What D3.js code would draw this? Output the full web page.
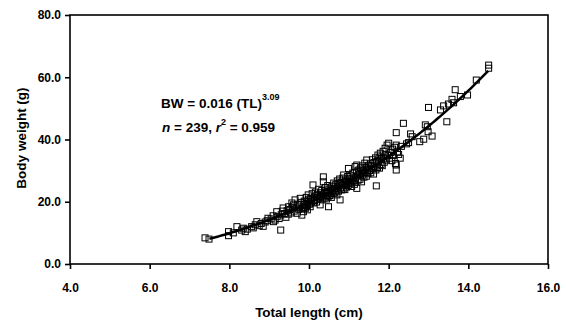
<!DOCTYPE html>
<html>
<head>
<meta charset="utf-8">
<script src="https://cdn.jsdelivr.net/npm/d3@7"></script>
<style>
  body { margin: 0; background: #fff; }
  text { font-family: Arial, "Liberation Sans", sans-serif; font-weight: bold; fill: #000; }
</style>
</head>
<body>
<div id="chart"></div>
<script>
// tick labels
const xTicks = [4, 6, 8, 10, 12, 14, 16];
const yTicks = [0, 20, 40, 60, 80];

// fitted length-weight relation, BW = a * TL^b
const fitA = 0.016;
const fitB = 3.09;
const fitRange = [7.5, 14.5];

// [total length (cm), body weight (g)]
const smallFish = [
  [7.39, 8.4], [7.49, 8.0], [7.98, 10.4], [7.98, 9.1],
  [8.19, 12.0], [8.31, 10.9], [8.40, 10.4], [8.10, 10.0], [8.35, 11.5], [8.45, 11.2],
  [8.56, 12.0], [8.60, 11.6], [8.69, 13.6], [8.65, 12.6], [8.75, 12.3], [8.80, 13.0],
  [8.97, 14.7], [8.90, 13.5], [8.85, 12.1], [8.95, 13.9],
  [9.11, 13.6], [9.15, 14.1], [9.19, 16.8], [9.29, 10.9], [9.35, 18.0], [9.49, 18.4],
  [9.05, 14.5], [9.20, 15.2], [9.25, 14.6], [9.30, 15.8], [9.38, 16.2], [9.42, 15.0],
  [9.45, 17.1], [9.10, 15.5], [9.33, 17.0], [9.48, 16.0]
];

const midFish = [
  [9.52, 17.5], [9.55, 16.4], [9.58, 18.2], [9.61, 19.0], [9.63, 17.0], [9.65, 20.6],
  [9.68, 18.0], [9.70, 16.3], [9.72, 19.2], [9.74, 17.6], [9.76, 18.6], [9.78, 21.1],
  [9.80, 19.8], [9.82, 15.7], [9.84, 18.0], [9.86, 16.8], [9.88, 20.2], [9.90, 19.1],
  [9.91, 17.9], [9.93, 21.4], [9.94, 18.7], [9.95, 20.0], [9.96, 17.4], [9.97, 19.5],
  [9.98, 22.2], [9.99, 20.8], [9.57, 19.6], [9.88, 18.2],
  [10.01, 19.2], [10.03, 18.4], [10.04, 21.0], [10.06, 20.0], [10.08, 22.6], [10.10, 25.4],
  [10.11, 19.6], [10.13, 21.5], [10.14, 20.4], [10.16, 23.1], [10.18, 21.9], [10.19, 19.9],
  [10.21, 22.4], [10.22, 20.8], [10.24, 24.0], [10.26, 21.3], [10.28, 19.0], [10.29, 22.9],
  [10.30, 21.7], [10.32, 23.6], [10.33, 20.6], [10.35, 22.1], [10.36, 28.0], [10.36, 26.4],
  [10.38, 21.2], [10.40, 23.0], [10.41, 24.6], [10.42, 22.5], [10.44, 20.9], [10.45, 23.8],
  [10.46, 22.0], [10.47, 25.2], [10.48, 21.6], [10.49, 18.4], [10.50, 23.4],
  [10.52, 22.0], [10.53, 24.4], [10.55, 23.1], [10.56, 21.4], [10.58, 25.0], [10.59, 23.7],
  [10.61, 22.6], [10.62, 26.0], [10.64, 24.2], [10.65, 22.9], [10.67, 25.5], [10.68, 23.5],
  [10.70, 22.2], [10.71, 26.7], [10.72, 24.8], [10.74, 23.4], [10.75, 25.9], [10.77, 27.3],
  [10.78, 20.6], [10.79, 24.5], [10.80, 26.2], [10.82, 23.8], [10.83, 25.3], [10.85, 27.6],
  [10.86, 24.1], [10.87, 28.6], [10.88, 26.0], [10.90, 23.9], [10.91, 25.6], [10.92, 27.0],
  [10.94, 24.7], [10.95, 26.5], [10.97, 28.1], [10.98, 25.2], [10.99, 30.7]
];

const bigFish = [
  [11.01, 25.8], [11.02, 27.4], [11.04, 26.1], [11.05, 28.5], [11.07, 24.9], [11.08, 27.0],
  [11.10, 29.2], [11.11, 26.6], [11.13, 28.0], [11.14, 25.6], [11.16, 31.3], [11.17, 27.7],
  [11.19, 29.6], [11.20, 31.8], [11.20, 24.3], [11.22, 28.3], [11.23, 26.9], [11.25, 30.2],
  [11.26, 28.8], [11.28, 27.2], [11.29, 30.9], [11.31, 29.1], [11.32, 26.4], [11.34, 31.5],
  [11.35, 28.6], [11.37, 30.0], [11.38, 27.9], [11.40, 32.4], [11.41, 29.4], [11.43, 31.0],
  [11.44, 28.2], [11.45, 33.4], [11.47, 30.5], [11.48, 29.0], [11.50, 31.7],
  [11.52, 30.0], [11.54, 32.2], [11.55, 29.3], [11.57, 31.2], [11.59, 33.5], [11.60, 30.6],
  [11.62, 28.9], [11.63, 32.6], [11.65, 31.4], [11.67, 34.1], [11.68, 30.2], [11.69, 25.1],
  [11.70, 32.9], [11.72, 31.0], [11.73, 35.0], [11.75, 33.2], [11.77, 30.8], [11.78, 34.4],
  [11.79, 35.6], [11.81, 32.0], [11.82, 33.9], [11.84, 31.6], [11.86, 36.2], [11.87, 34.0],
  [11.89, 32.7], [11.91, 37.2], [11.92, 35.1], [11.94, 33.4], [11.96, 38.2], [11.98, 34.8],
  [12.00, 38.8], [12.02, 34.0], [12.05, 35.8], [12.08, 33.2], [12.10, 36.9], [12.12, 34.9],
  [12.15, 37.5], [12.17, 32.3], [12.19, 42.2], [12.19, 38.2], [12.19, 31.8], [12.19, 30.2],
  [12.22, 36.0], [12.25, 35.2], [12.29, 34.0], [12.32, 37.8], [12.37, 45.2], [12.45, 38.6]
];

const largestFish = [
  [12.50, 39.0], [12.59, 40.9], [12.78, 39.3], [12.88, 40.1], [12.92, 44.7], [12.97, 44.1],
  [12.99, 42.5], [12.55, 41.8],
  [13.00, 50.3], [13.09, 41.1], [13.30, 49.5], [13.38, 50.8], [13.46, 45.7], [13.50, 51.4],
  [13.59, 52.9], [13.63, 51.8], [13.67, 56.0], [13.80, 53.8], [13.98, 54.3], [14.20, 59.1],
  [14.51, 63.9], [14.51, 62.9]
];

const fish = smallFish.concat(midFish, bigFish, largestFish);

const width = 566;
const height = 322;
const plotL = 70, plotR = 548, plotT = 15, plotB = 264;

const svg = d3.select("#chart")
  .append("svg")
  .attr("width", width)
  .attr("height", height);

svg.append("rect").attr("width", width).attr("height", height).attr("fill", "#fff");

const x = d3.scaleLinear().domain([4, 16]).range([plotL, plotR]);
const y = d3.scaleLinear().domain([0, 80]).range([plotB, plotT]);

// points
const sq = 6;
svg.append("g")
  .selectAll("rect")
  .data(fish)
  .enter().append("rect")
  .attr("x", d => x(d[0]) - sq / 2)
  .attr("y", d => y(d[1]) - sq / 2)
  .attr("width", sq)
  .attr("height", sq)
  .attr("fill", "none")
  .attr("stroke", "#000")
  .attr("stroke-width", 1);

// fitted curve
const curveTL = d3.range(fitRange[0], fitRange[1] + 0.001, 0.05);
const line = d3.line()
  .x(d => x(d))
  .y(d => y(fitA * Math.pow(d, fitB)));

svg.append("path")
  .datum(curveTL)
  .attr("d", line)
  .attr("fill", "none")
  .attr("stroke", "#000")
  .attr("stroke-width", 2.5);

// frame
svg.append("rect")
  .attr("x", plotL).attr("y", plotT)
  .attr("width", plotR - plotL).attr("height", plotB - plotT)
  .attr("fill", "none")
  .attr("stroke", "#000")
  .attr("stroke-width", 1.6);

const xAxis = svg.append("g")
  .attr("transform", `translate(0,${plotB})`)
  .call(d3.axisBottom(x).tickValues(xTicks).tickFormat(d3.format(".1f"))
    .tickSize(5).tickSizeOuter(0).tickPadding(14));

const yAxis = svg.append("g")
  .attr("transform", `translate(${plotL},0)`)
  .call(d3.axisLeft(y).tickValues(yTicks).tickFormat(d3.format(".1f"))
    .tickSize(5).tickSizeOuter(0).tickPadding(4));

[xAxis, yAxis].forEach(g => {
  g.select(".domain").remove();
  g.selectAll(".tick line").attr("stroke", "#000").attr("stroke-width", 1.6);
  g.selectAll(".tick text")
    .attr("font-family", "Arial, 'Liberation Sans', sans-serif")
    .attr("font-weight", "bold")
    .attr("font-size", 12)
    .attr("fill", "#000");
});

// axis titles
svg.append("text")
  .attr("x", (plotL + plotR) / 2)
  .attr("y", 317)
  .attr("text-anchor", "middle")
  .attr("font-size", 13.5)
  .text("Total length (cm)");

svg.append("text")
  .attr("transform", "rotate(-90)")
  .attr("x", -138)
  .attr("y", 26)
  .attr("text-anchor", "middle")
  .attr("font-size", 13.5)
  .text("Body weight (g)");

// equation
const eq = svg.append("text")
  .attr("x", 161)
  .attr("y", 108)
  .attr("font-size", 13.5);
eq.append("tspan").text("BW = 0.016 (TL)");
eq.append("tspan").attr("font-size", 9).attr("dy", -8).text("3.09");

const stat = svg.append("text")
  .attr("x", 162)
  .attr("y", 132)
  .attr("font-size", 13.5);
stat.append("tspan").attr("font-style", "italic").text("n");
stat.append("tspan").text(" = 239, ");
stat.append("tspan").attr("font-style", "italic").text("r");
stat.append("tspan").attr("font-size", 9).attr("dy", -7).text("2");
stat.append("tspan").attr("dy", 7).text(" = 0.959");
</script>
</body>
</html>
